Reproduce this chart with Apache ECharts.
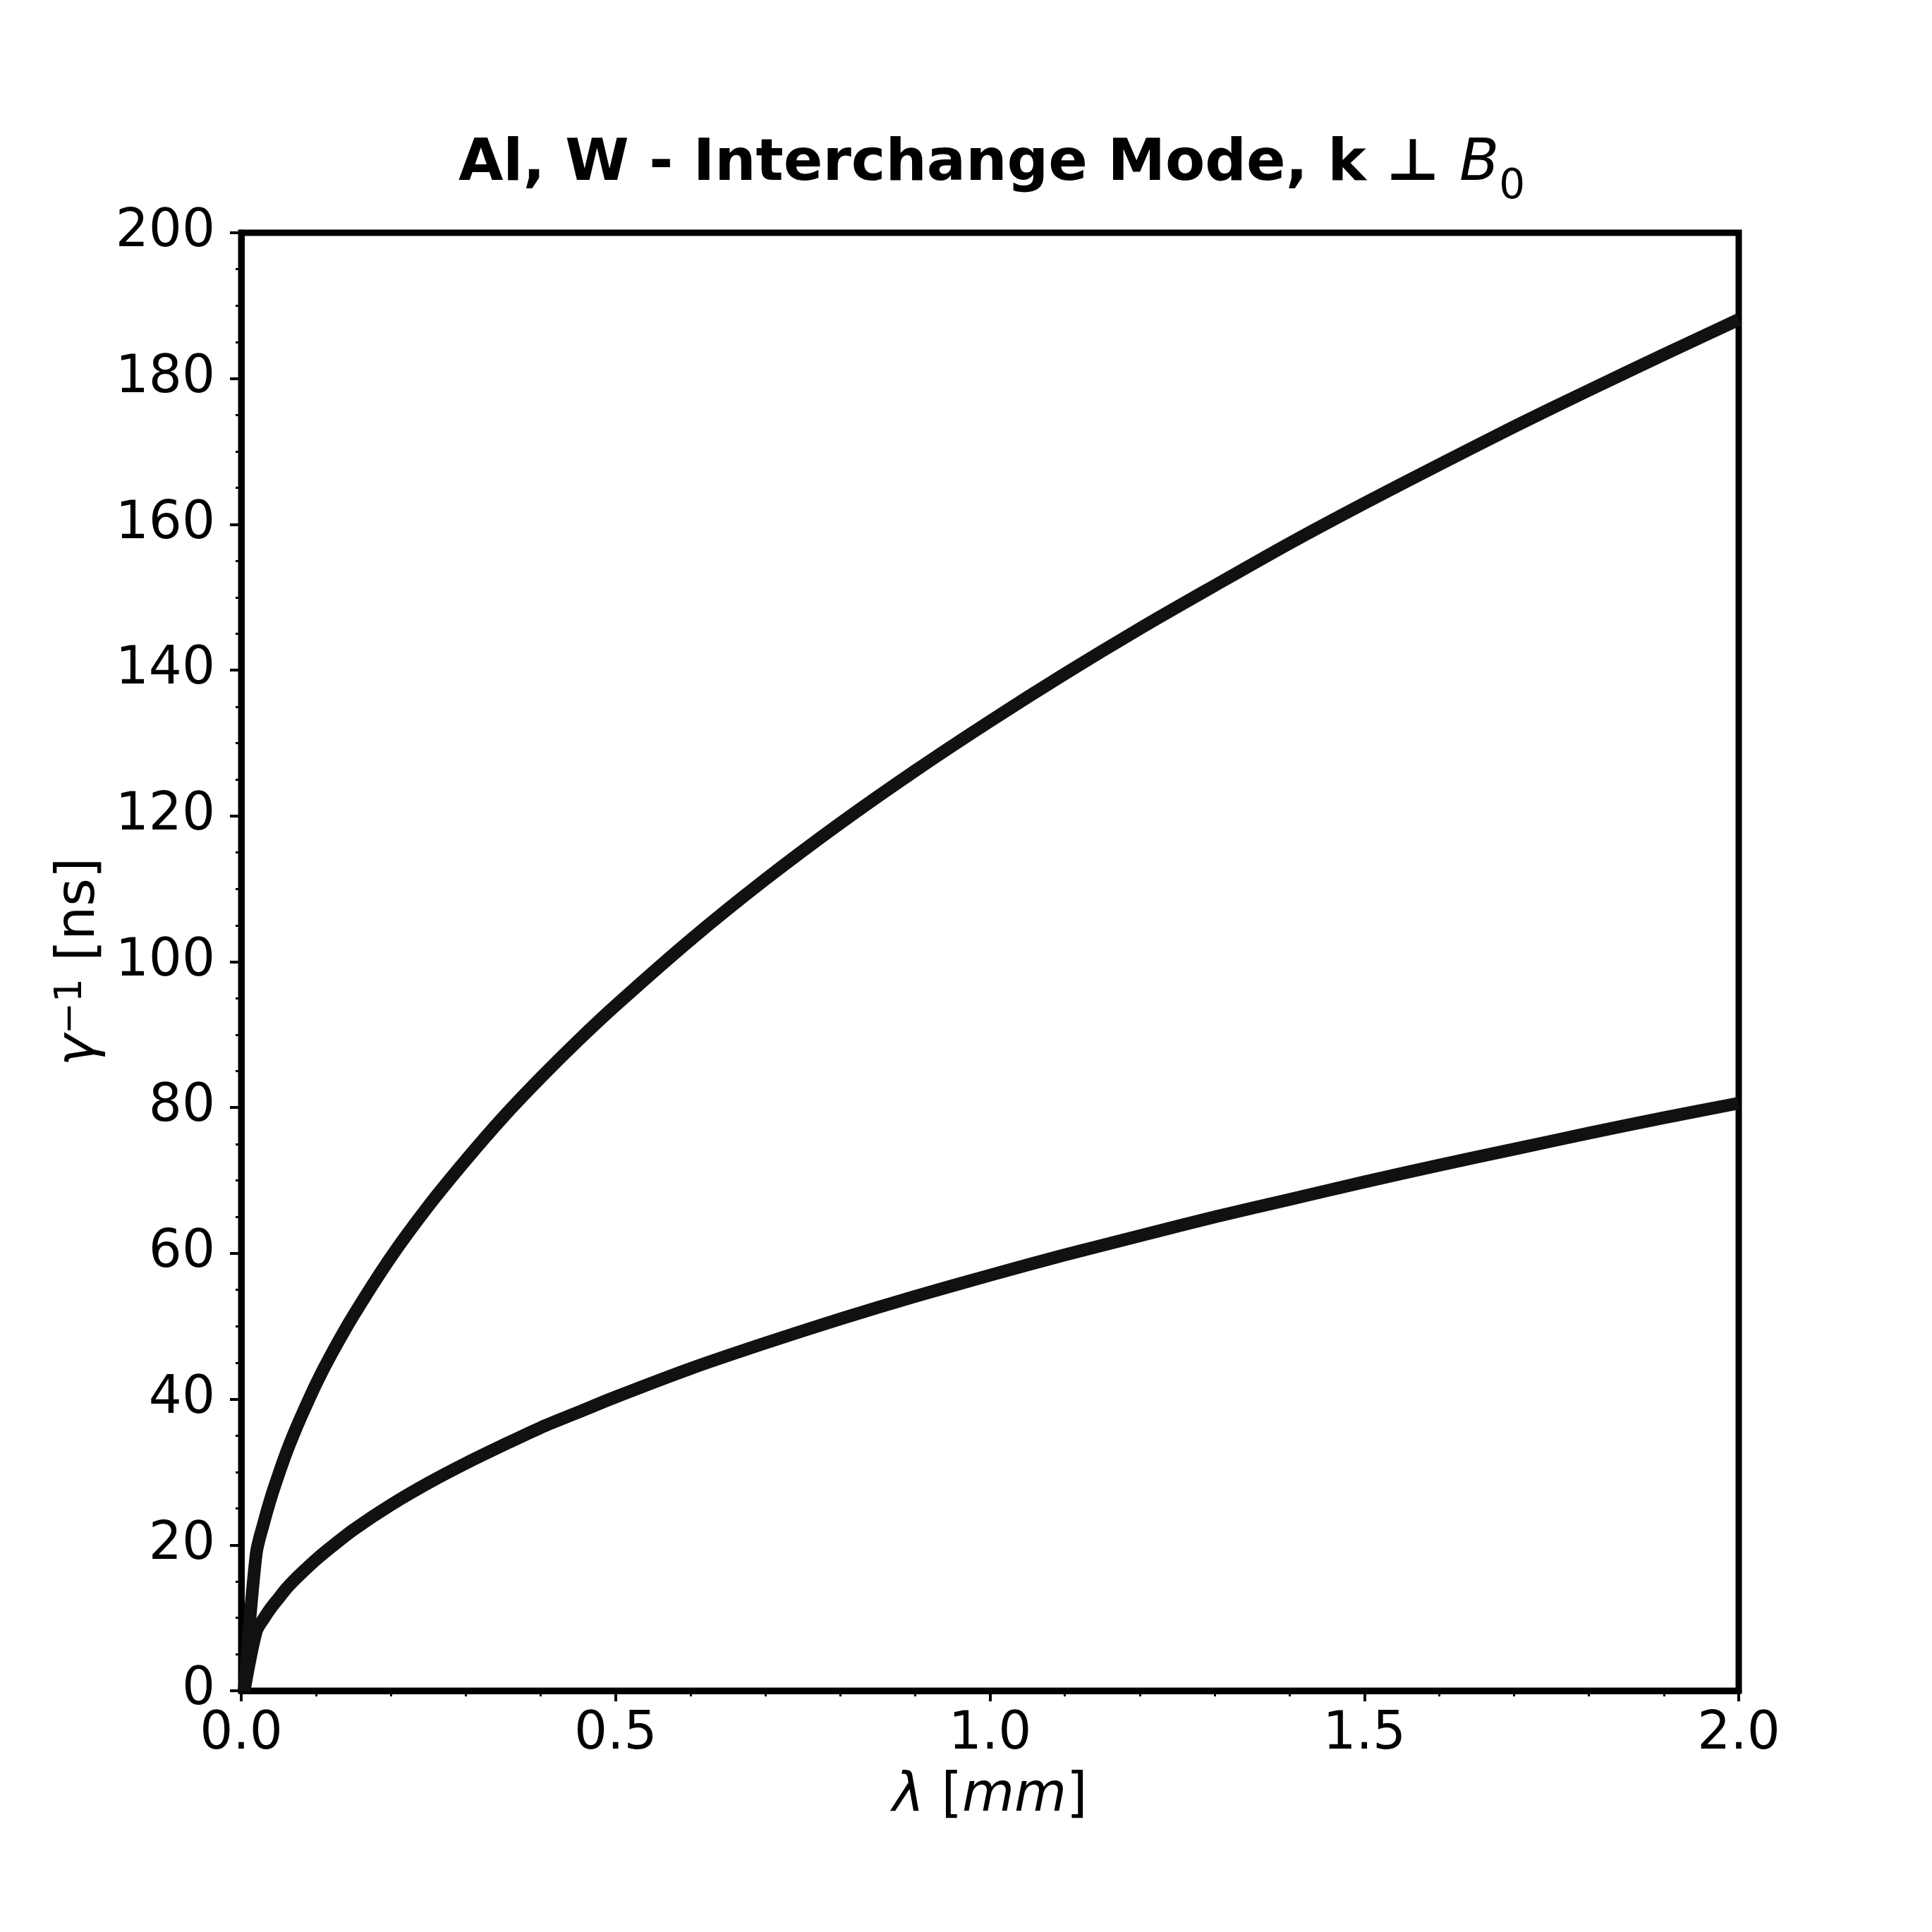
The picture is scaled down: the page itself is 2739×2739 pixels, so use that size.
<!DOCTYPE html>
<html>
<head>
<meta charset="utf-8">
<script src="https://cdn.jsdelivr.net/npm/echarts@6/dist/echarts.min.js"></script>
<style>
    html, body { margin: 0; padding: 0; background: #fff; }
    #chart { width: 2739px; height: 2739px; }
</style>
</head>
<body>
<div id="chart"></div>
<script>
// λ [mm] 取样点
var lambdaMm = [0.004, 0.02, 0.03, 0.04, 0.05, 0.06, 0.07, 0.08, 0.1, 0.12, 0.15, 0.2, 0.25, 0.3, 0.35, 0.4, 0.45, 0.5,
    0.6, 0.7, 0.8, 0.9, 1.0, 1.1, 1.2, 1.3, 1.4, 1.5, 1.6, 1.7, 1.8, 1.9, 2.0];
// 上面那条曲线 γ^-1 [ns]
var upperNs = [0, 18.8, 23.0, 26.6, 29.7, 32.6, 35.2, 37.6, 42.1, 46.1, 51.5, 59.5, 66.5, 72.8, 78.7, 84.1, 89.2, 94.0,
    103.0, 111.3, 119.0, 126.2, 133.0, 139.5, 145.7, 151.6, 157.4, 162.9, 168.2, 173.4, 178.4, 183.3, 188.1];
// 下面那条曲线
var lowerNs = [0, 8.1, 9.9, 11.4, 12.7, 14.0, 15.1, 16.1, 18.0, 19.7, 22.1, 25.5, 28.5, 31.2, 33.7, 36.1, 38.2, 40.3,
    44.2, 47.7, 51.0, 54.1, 57.0, 59.8, 62.4, 65.0, 67.4, 69.8, 72.1, 74.3, 76.5, 78.6, 80.6];
var titleText = "Al, W - Interchange Mode, k ⊥ ";

var FONT = "DejaVu Sans";
var chart = echarts.init(document.getElementById("chart"), null, {renderer: "canvas"});

function pairs(xs, ys) {
    return xs.map(function (x, i) {
        return [x, ys[i]];
    });
}

var lineStyle = {color: "#111111", width: 18, cap: "butt", join: "round"};

var option = {
    backgroundColor: "#ffffff",
    animation: false,
    title: {
        left: 1401,
        textAlign: "center",
        top: 188,
        text: "{b|" + titleText + "}{i|B}{s|0}",
        textStyle: {
            rich: {
                b: {fontFamily: FONT, fontWeight: "bold", fontSize: 82, color: "#000"},
                i: {fontFamily: FONT, fontWeight: "normal", fontStyle: "italic", fontSize: 82, color: "#000"},
                s: {fontFamily: FONT, fontWeight: "normal", fontSize: 58, color: "#000",
                    verticalAlign: "bottom", padding: [0, 0, -20, 0]}
            }
        }
    },
    grid: {
        left: 342, right: 274, top: 330, bottom: 342,
        show: true, borderColor: "#000", borderWidth: 9, backgroundColor: "transparent",
        containLabel: false
    },
    xAxis: {
        type: "value",
        min: 0, max: 2, interval: 0.5,
        name: "{i|λ} [{i|mm}]",
        nameLocation: "middle",
        nameGap: 112,
        nameTextStyle: {
            fontFamily: FONT, fontSize: 76, color: "#000",
            rich: {i: {fontFamily: FONT, fontStyle: "italic", fontSize: 76, color: "#000"}}
        },
        axisLine: {show: true, onZero: false, lineStyle: {color: "#000", width: 9}},
        axisTick: {show: true, inside: false, length: 15, lineStyle: {color: "#000", width: 4}},
        minorTick: {show: true, splitNumber: 5, length: 8, lineStyle: {color: "#000", width: 3}},
        axisLabel: {
            fontFamily: FONT, fontSize: 74, color: "#000", margin: 26,
            formatter: function (v) { return v.toFixed(1); }
        },
        splitLine: {show: false}
    },
    yAxis: {
        type: "value",
        min: 0, max: 200, interval: 20,
        name: "{i|γ}{s|−1} [ns]",
        nameLocation: "middle",
        nameGap: 190,
        nameRotate: 90,
        nameTextStyle: {
            fontFamily: FONT, fontSize: 76, color: "#000",
            rich: {
                i: {fontFamily: FONT, fontStyle: "italic", fontSize: 76, color: "#000"},
                s: {fontFamily: FONT, fontSize: 54, color: "#000", verticalAlign: "top", padding: [0, 0, 24, 0]}
            }
        },
        axisLine: {show: true, onZero: false, lineStyle: {color: "#000", width: 9}},
        axisTick: {show: true, inside: false, length: 16, lineStyle: {color: "#000", width: 4}},
        minorTick: {show: true, splitNumber: 4, length: 8, lineStyle: {color: "#000", width: 3}},
        axisLabel: {fontFamily: FONT, fontSize: 74, color: "#000", margin: 37},
        splitLine: {show: false}
    },
    series: [
        {
            name: "upper", type: "line", data: pairs(lambdaMm, upperNs),
            showSymbol: false, smooth: 0.3, lineStyle: lineStyle, clip: true, z: 1
        },
        {
            name: "lower", type: "line", data: pairs(lambdaMm, lowerNs),
            showSymbol: false, smooth: 0.3, lineStyle: lineStyle, clip: true, z: 1
        }
    ]
};
chart.setOption(option);
</script>
</body>
</html>
